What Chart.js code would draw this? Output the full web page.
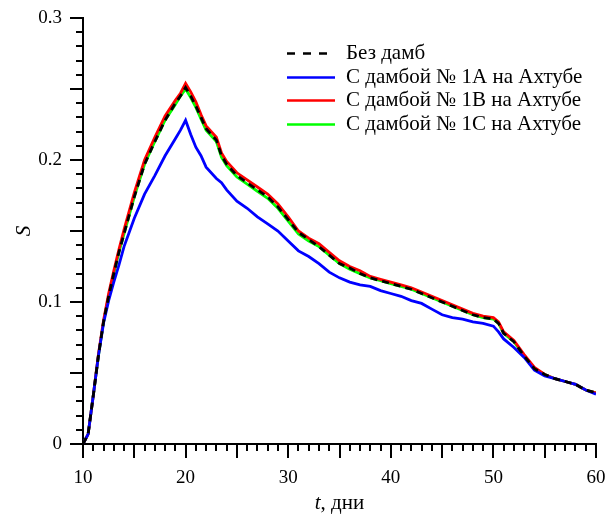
<!DOCTYPE html>
<html lang="ru">
<head>
    <meta charset="UTF-8">
    <title>S(t)</title>
    <script src="https://cdn.jsdelivr.net/npm/chart.js"></script>
    <style>
        html, body { margin: 0; padding: 0; background: #fff; }
        #wrap { width: 606px; height: 516px; }
    </style>
</head>
<body>
<div id="wrap"><canvas id="myChart" width="606" height="516"></canvas></div>
<script>
    // время, дни
    const days = [10, 10.5, 11, 11.5, 12, 12.5, 13, 13.5, 14, 15, 16, 17, 18, 19, 19.5, 20, 20.5, 21, 21.5, 22,
        23, 23.5, 24, 25, 26, 27, 28, 29, 30, 31, 32, 33, 34, 35, 36, 37, 38, 39, 40,
        41, 42, 43, 44, 45, 46, 47, 48, 49, 50, 50.5, 51, 52, 53, 54, 55, 56, 57, 58, 59, 60];

    // С дамбой № 1B (красная)
    const sDam1B = [0, 0.007, 0.034, 0.063, 0.087, 0.106, 0.122, 0.137, 0.151, 0.177, 0.200, 0.216, 0.231, 0.242, 0.247, 0.254, 0.248, 0.241, 0.232, 0.224,
        0.216, 0.205, 0.199, 0.191, 0.186, 0.181, 0.176, 0.169, 0.160, 0.150, 0.145, 0.141, 0.135, 0.129, 0.125, 0.122, 0.118, 0.116, 0.114,
        0.112, 0.110, 0.107, 0.104, 0.101, 0.098, 0.095, 0.092, 0.090, 0.089, 0.086, 0.079, 0.073, 0.063, 0.054, 0.049, 0.046, 0.044, 0.042, 0.038, 0.036];

    // Без дамб (чёрная пунктирная)
    const sNoDam = [0, 0.007, 0.034, 0.062, 0.086, 0.104, 0.120, 0.135, 0.148, 0.174, 0.197, 0.213, 0.228, 0.240, 0.245, 0.251, 0.245, 0.238, 0.230, 0.222,
        0.214, 0.203, 0.197, 0.189, 0.184, 0.179, 0.174, 0.167, 0.158, 0.149, 0.144, 0.139, 0.133, 0.127, 0.124, 0.120, 0.117, 0.115, 0.113,
        0.111, 0.109, 0.106, 0.103, 0.100, 0.097, 0.094, 0.091, 0.089, 0.088, 0.085, 0.078, 0.072, 0.062, 0.053, 0.049, 0.046, 0.044, 0.042, 0.038, 0.036];

    // С дамбой № 1C (зелёная)
    const sDam1C = [0, 0.007, 0.034, 0.062, 0.086, 0.104, 0.120, 0.135, 0.148, 0.174, 0.197, 0.213, 0.228, 0.239, 0.245, 0.250, 0.244, 0.237, 0.229, 0.221,
        0.213, 0.202, 0.196, 0.188, 0.183, 0.178, 0.173, 0.166, 0.157, 0.148, 0.143, 0.139, 0.133, 0.127, 0.123, 0.120, 0.117, 0.115, 0.113,
        0.111, 0.109, 0.106, 0.103, 0.100, 0.097, 0.094, 0.091, 0.089, 0.088, 0.085, 0.078, 0.072, 0.062, 0.053, 0.049, 0.046, 0.044, 0.042, 0.038, 0.036];

    // С дамбой № 1A (синяя)
    const sDam1A = [0, 0.007, 0.034, 0.062, 0.085, 0.101, 0.114, 0.126, 0.139, 0.159, 0.176, 0.189, 0.203, 0.215, 0.221, 0.228, 0.218, 0.209, 0.203, 0.195,
        0.187, 0.184, 0.179, 0.171, 0.166, 0.160, 0.155, 0.150, 0.143, 0.136, 0.132, 0.127, 0.121, 0.117, 0.114, 0.112, 0.111, 0.108, 0.106,
        0.104, 0.101, 0.099, 0.095, 0.091, 0.089, 0.088, 0.086, 0.085, 0.083, 0.079, 0.074, 0.068, 0.061, 0.052, 0.048, 0.046, 0.044, 0.042, 0.038, 0.035];

    const labels = ['Без дамб', 'С дамбой № 1A на Ахтубе', 'С дамбой № 1B на Ахтубе', 'С дамбой № 1C на Ахтубе'];

    const FONT = '"Liberation Serif", "Times New Roman", serif';

    function pts(ys) {
        return days.map((d, i) => ({ x: d, y: ys[i] }));
    }

    // засечки разной длины (мелкие / крупные)
    const tickMarks = {
        id: 'tickMarks',
        afterDraw(chart) {
            const ctx = chart.ctx;
            const xs = chart.scales.x, ys = chart.scales.y;
            const area = chart.chartArea;
            ctx.save();
            ctx.strokeStyle = '#000';
            ctx.lineWidth = 2;
            ctx.beginPath();
            for (let t = 10; t <= 60; t++) {
                const px = Math.round(xs.getPixelForValue(t));
                const len = t % 5 === 0 ? 14 : 7;
                ctx.moveTo(px, area.bottom);
                ctx.lineTo(px, area.bottom + len);
            }
            for (let k = 0; k <= 30; k++) {
                const py = Math.round(ys.getPixelForValue(k / 100));
                const len = k % 5 === 0 ? 13 : 7;
                ctx.moveTo(area.left, py);
                ctx.lineTo(area.left - len, py);
            }
            ctx.stroke();
            ctx.restore();
        }
    };

    // подписи осей (курсив для t и S)
    const axisTitles = {
        id: 'axisTitles',
        afterDraw(chart) {
            const ctx = chart.ctx;
            const area = chart.chartArea;
            ctx.save();
            ctx.fillStyle = '#000';
            ctx.textBaseline = 'middle';
            // x
            const partA = 't';
            const partB = ', дни';
            ctx.font = 'italic 21px ' + FONT;
            const wA = ctx.measureText(partA).width;
            ctx.font = '21px ' + FONT;
            const wB = ctx.measureText(partB).width;
            let x0 = (area.left + area.right) / 2 - (wA + wB) / 2;
            const yT = area.bottom + 59;
            ctx.font = 'italic 21px ' + FONT;
            ctx.textAlign = 'left';
            ctx.fillText(partA, x0, yT);
            ctx.font = '21px ' + FONT;
            ctx.fillText(partB, x0 + wA, yT);
            // y
            ctx.translate(24, (area.top + area.bottom) / 2);
            ctx.rotate(-Math.PI / 2);
            ctx.textAlign = 'center';
            ctx.font = 'italic 21px ' + FONT;
            ctx.fillText('S', 0, 0);
            ctx.restore();
        }
    };

    // легенда внутри области построения
    const innerLegend = {
        id: 'innerLegend',
        afterDraw(chart) {
            const ctx = chart.ctx;
            const area = chart.chartArea;
            const lx = area.left + 204;
            const ly = area.top + 35;
            ctx.save();
            ctx.font = '21px ' + FONT;
            ctx.textBaseline = 'middle';
            ctx.textAlign = 'left';
            chart.data.datasets.forEach((ds, i) => {
                const y = Math.round(ly + i * 23.5) + 0.5;
                ctx.strokeStyle = ds.borderColor;
                ctx.lineWidth = 2.5;
                ctx.setLineDash(ds.borderDash ? [8, 8] : []);
                ctx.beginPath();
                ctx.moveTo(lx, y);
                ctx.lineTo(lx + 48, y);
                ctx.stroke();
                ctx.setLineDash([]);
                ctx.fillStyle = '#000';
                ctx.fillText(ds.label, lx + 59, y);
            });
            ctx.restore();
        }
    };

    const ctx = document.getElementById('myChart').getContext('2d');
    const myChart = new Chart(ctx, {
        type: 'line',
        data: {
            datasets: [
                { label: labels[0], data: pts(sNoDam), borderColor: '#000000', borderDash: [7, 5], borderWidth: 2.8 },
                { label: labels[1], data: pts(sDam1A), borderColor: '#0000ff', borderWidth: 2.8 },
                { label: labels[2], data: pts(sDam1B), borderColor: '#ff0000', borderWidth: 2.8 },
                { label: labels[3], data: pts(sDam1C), borderColor: '#00ff00', borderWidth: 2.8 }
            ]
        },
        options: {
            responsive: false,
            animation: false,
            elements: { point: { radius: 0 }, line: { tension: 0, fill: false } },
            layout: { padding: { top: 18, right: 10, left: 0, bottom: 0 } },
            plugins: {
                legend: { display: false },
                tooltip: { enabled: false }
            },
            scales: {
                x: {
                    type: 'linear',
                    min: 10, max: 60,
                    grid: { display: false, drawTicks: false },
                    border: { display: true, color: '#000', width: 2 },
                    ticks: { stepSize: 10, padding: 23, color: '#000', font: { family: FONT, size: 19 }, maxRotation: 0 },
                    afterFit(scale) {
                        scale.height = 72;
                        scale.paddingLeft = 0;
                        scale.paddingRight = 0;
                    }
                },
                y: {
                    min: 0, max: 0.3,
                    grid: { display: false, drawTicks: false },
                    border: { display: true, color: '#000', width: 2 },
                    ticks: {
                        stepSize: 0.1, padding: 21, color: '#000', font: { family: FONT, size: 19 },
                        callback: v => (Math.round(v * 10) / 10).toString()
                    },
                    afterFit(scale) {
                        scale.width = 83;
                        scale.paddingTop = 0;
                        scale.paddingBottom = 0;
                    }
                }
            }
        },
        plugins: [tickMarks, axisTitles, innerLegend]
    });
</script>
</body>
</html>
